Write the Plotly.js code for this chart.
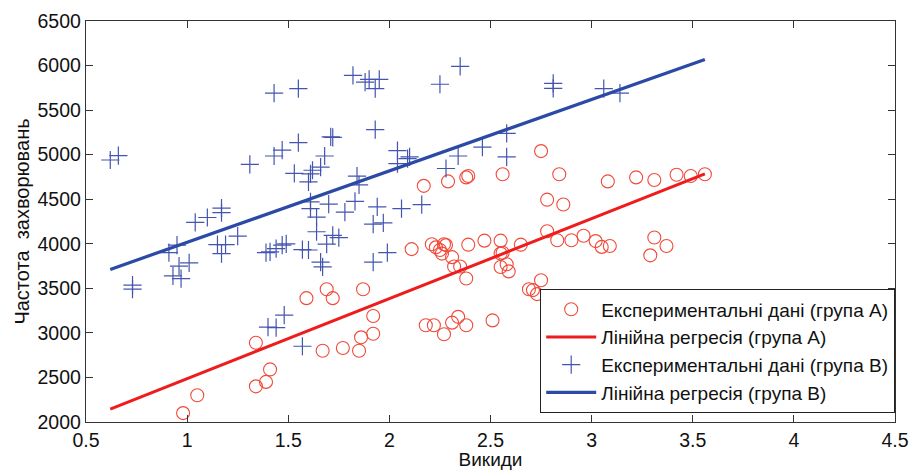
<!DOCTYPE html>
<html>
<head>
<meta charset="utf-8">
<script src="https://cdn.plot.ly/plotly-3.0.1.min.js"></script>
<style>html,body{margin:0;padding:0;background:#fff}#chart{width:910px;height:470px}</style>
</head>
<body>
<div id="chart"></div>
<script>
// Group A experimental data (emissions, disease rate)
const groupA_x = [0.98,1.05,1.34,1.39,1.41,1.34,1.59,1.69,1.72,1.67,1.77,1.85,1.86,1.87,1.92,1.92,
  2.11,2.17,2.18,2.22,2.27,2.31,2.34,2.38,2.51,2.21,2.23,2.25,2.26,2.27,2.28,2.29,2.31,2.32,2.35,2.38,
  2.39,2.38,2.39,2.47,2.55,2.55,2.56,2.55,2.58,2.59,2.56,2.65,2.69,2.71,2.73,2.75,2.75,2.78,2.78,2.83,
  2.84,2.86,2.90,2.96,3.02,3.05,3.08,3.09,3.22,3.29,3.31,3.31,3.37,3.42,3.49,3.56];
const groupA_y = [2100,2300,2400,2450,2590,2890,3390,3490,3390,2800,2830,2800,2950,3490,3190,2990,
  3940,4650,3085,3085,2985,3115,3180,3085,3140,3995,3960,3930,3890,3995,3985,4700,3850,3745,3745,3610,
  3990,4745,4760,4035,4035,3890,3900,3740,3770,3690,4780,3990,3490,3480,3435,3590,5040,4140,4495,4040,
  4780,4440,4040,4090,4030,3965,4700,3975,4745,3870,4070,4715,3975,4775,4760,4780];
// Group B experimental data
const groupB_x = [0.62,0.66,0.73,0.73,0.91,0.93,0.95,0.96,0.97,1.01,1.04,1.10,1.17,1.17,1.15,1.19,1.17,
  1.25,1.31,1.39,1.43,1.55,1.43,1.47,1.55,1.71,1.72,1.53,1.61,1.62,1.66,1.68,1.60,1.82,1.88,1.90,1.95,
  1.93,1.93,1.84,1.85,1.61,1.61,1.64,1.70,1.78,1.83,1.94,2.06,2.16,1.92,1.97,1.64,1.72,1.75,1.69,1.41,
  1.44,1.47,1.49,1.57,1.60,1.66,1.67,1.92,1.99,1.48,1.40,1.44,1.57,2.04,2.04,2.09,2.10,2.35,2.25,2.81,
  2.81,2.58,2.58,2.46,2.34,2.28,3.06,3.14];
const groupB_y = [4940,4990,3535,3490,3900,3640,3985,3750,3610,3785,4240,4295,4400,4350,3990,3990,3890,
  4085,4890,3900,5690,5740,4985,5050,5135,5200,5195,4790,4785,4825,4860,4985,4695,5890,5815,5845,5845,
  5740,5280,4760,4660,4470,4395,4300,4445,4355,4475,4415,4395,4440,4220,4235,4135,4095,4070,3995,3910,
  3945,3985,4000,3935,3930,3795,3740,3795,3900,3200,3065,3060,2850,5045,4900,4955,4975,5990,5790,5800,
  5745,5240,4975,5085,4985,4845,5740,5690];
// Linear regression lines (endpoints)
const regA_x = [0.62, 3.56];
const regA_y = [2145, 4785];
const regB_x = [0.62, 3.56];
const regB_y = [3712, 6068];

const xTicks = [0.5,1,1.5,2,2.5,3,3.5,4,4.5];
const xTickText = ['0.5','1','1.5','2','2.5','3','3.5','4','4.5'];
const yTicks = [2000,2500,3000,3500,4000,4500,5000,5500,6000,6500];

const FONT = 'Liberation Sans, Arial, sans-serif';
const data = [
  {x: groupA_x, y: groupA_y, type: 'scatter', mode: 'markers', name: 'Експериментальні дані (група А)',
   marker: {symbol: 'circle-open', size: 13, color: '#f04a3a', line: {width: 1.1}}},
  {x: regA_x, y: regA_y, type: 'scatter', mode: 'lines', name: 'Лінійна регресія (група А)',
   line: {color: '#ee1c1c', width: 3}},
  {x: groupB_x, y: groupB_y, type: 'scatter', mode: 'markers', name: 'Експериментальні дані (група В)',
   marker: {symbol: 'cross-thin-open', size: 13, color: '#4455b0', line: {width: 1.2, color: '#4455b0'}}},
  {x: regB_x, y: regB_y, type: 'scatter', mode: 'lines', name: 'Лінійна регресія (група В)',
   line: {color: '#2a4aa6', width: 3.2}}
];
const axisCommon = {
  showgrid: false, zeroline: false, showline: true, linecolor: '#333', linewidth: 1.2,
  mirror: 'ticks', ticks: 'inside', ticklen: 7, tickcolor: '#333', tickwidth: 1.2,
  tickfont: {family: FONT, size: 19.5, color: '#111'}
};
const layout = {
  width: 910, height: 470,
  margin: {l: 86, r: 15, t: 21, b: 48},
  paper_bgcolor: '#fff', plot_bgcolor: '#fff',
  font: {family: FONT, color: '#111'},
  showlegend: true,
  xaxis: Object.assign({}, axisCommon, {
    range: [0.5, 4.5], tickvals: xTicks, ticktext: xTickText,
    title: {text: 'Викиди', font: {family: FONT, size: 19, color: '#111'}, standoff: 8}
  }),
  yaxis: Object.assign({}, axisCommon, {
    range: [2000, 6500], tickvals: yTicks,
    title: {text: 'Частота  захворювань', font: {family: FONT, size: 20, color: '#111'}, standoff: 2}
  }),
  legend: {
    x: 1, xanchor: 'right', y: 0.022, yanchor: 'bottom',
    bgcolor: '#fff', bordercolor: '#222', borderwidth: 1.2,
    font: {family: FONT, size: 19, color: '#111'},
    tracegroupgap: 0, itemwidth: 50
  }
};
Plotly.newPlot('chart', data, layout, {displayModeBar: false, staticPlot: true});
</script>
</body>
</html>
